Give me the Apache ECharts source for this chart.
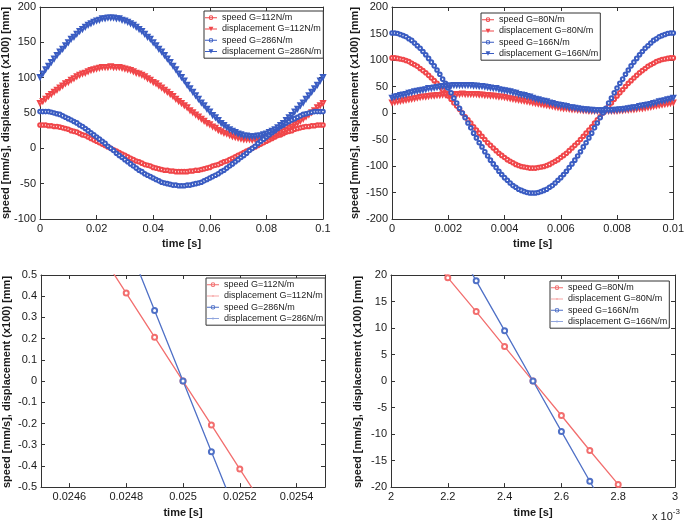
<!DOCTYPE html>
<html>
<head>
<meta charset="utf-8">
<script src="https://cdn.jsdelivr.net/npm/echarts@6/dist/echarts.min.js"></script>
<style>
html,body{margin:0;padding:0;background:#fff;}
#wrap{position:relative;width:687px;height:523px;}
.p{position:absolute;}
</style>
</head>
<body>
<div id="wrap">
<div id="c1" class="p" style="left:0;top:0;width:345px;height:262px"></div>
<div id="c2" class="p" style="left:345px;top:0;width:342px;height:262px"></div>
<div id="c3" class="p" style="left:0;top:262px;width:345px;height:261px"></div>
<div id="c4" class="p" style="left:345px;top:262px;width:342px;height:261px"></div>
</div>
<script>
// ---------- Panel 1 (t = 0 .. 0.1 s, step 0.001 s) ----------
const p1Step = 0.001;
const p1Names = ['speed G=112N/m', 'displacement G=112N/m', 'speed G=286N/m', 'displacement G=286N/m'];
const p1Speed112 = [33,33,33,32,32,31,31,30,29,28,27,25,24,23,21,19,18,16,14,12,10,8,6,4,2,0,-2,-4,-6,-8,-10,-12,-14,-16,-18,-19,-21,-23,-24,-25,-27,-28,-29,-30,-31,-31,-32,-32,-33,-33,-33,-33,-33,-32,-32,-31,-31,-30,-29,-28,-27,-25,-24,-23,-21,-19,-18,-16,-14,-12,-10,-8,-6,-4,-2,0,2,4,6,8,10,12,14,16,18,19,21,23,24,25,27,28,29,30,31,31,32,32,33,33,33];
const p1Disp112 = [64,67,70,74,77,80,83,86,89,92,94,97,99,102,104,106,107,109,111,112,113,114,115,115,115,116,115,115,115,114,113,112,111,109,107,106,104,102,99,97,94,92,89,86,83,80,77,74,70,67,64,61,58,54,51,48,45,42,39,36,34,31,29,26,24,22,21,19,17,16,15,14,13,13,13,12,13,13,13,14,15,16,17,19,21,22,24,26,29,31,34,36,39,42,45,48,51,54,58,61,64];
const p1Speed286 = [52,52,52,52,51,50,49,48,46,44,42,40,38,36,33,31,28,25,22,19,16,13,10,7,3,0,-3,-7,-10,-13,-16,-19,-22,-25,-28,-31,-33,-36,-38,-40,-42,-44,-46,-48,-49,-50,-51,-52,-52,-53,-53,-53,-52,-52,-51,-50,-49,-48,-46,-44,-42,-40,-38,-36,-33,-31,-28,-25,-22,-19,-16,-13,-10,-7,-3,0,3,7,10,13,16,19,22,25,28,31,33,36,38,40,42,44,46,48,49,50,51,52,52,52,52];
const p1Disp286 = [101,106,112,117,122,127,132,137,141,146,150,155,158,162,166,169,172,175,177,179,181,182,184,184,185,185,185,184,184,182,181,179,177,175,172,169,166,162,158,155,150,146,141,137,132,127,122,117,112,106,101,96,90,85,80,75,70,65,61,56,52,47,44,40,36,33,30,27,25,23,21,20,18,18,17,17,17,18,18,20,21,23,25,27,30,33,36,40,44,47,52,56,61,65,70,75,80,85,90,96,101];

// ---------- Panel 2 (t = 0 .. 0.01 s, step 0.0001 s) ----------
const p2Step = 0.0001;
const p2Names = ['speed G=80N/m', 'displacement G=80N/m', 'speed G=166N/m', 'displacement G=166N/m'];
const p2Speed80 = [104,104,103,102,101,99,97,94,91,88,84,80,76,71,66,61,56,50,44,38,32,26,19,13,7,0,-7,-13,-19,-26,-32,-38,-44,-50,-56,-61,-66,-71,-76,-80,-84,-88,-91,-94,-97,-99,-101,-102,-103,-104,-104,-104,-103,-102,-101,-99,-97,-94,-91,-88,-84,-80,-76,-71,-66,-61,-56,-50,-44,-38,-32,-26,-19,-13,-7,0,7,13,19,26,32,38,44,50,56,61,66,71,76,80,84,88,91,94,97,99,101,102,103,104,104];
const p2Disp80 = [20,21,22,23,24,25,26,27,28,29,30,31,31,32,33,33,34,34,35,35,36,36,36,36,36,37,36,36,36,36,36,35,35,34,34,33,33,32,31,31,30,29,28,27,26,25,24,23,22,21,20,19,18,17,16,15,14,13,12,11,10,9,9,8,7,7,6,6,5,5,4,4,4,4,4,4,4,4,4,4,4,5,5,6,6,7,7,8,9,9,10,11,12,13,14,15,16,17,18,19,20];
const p2Speed166 = [151,151,150,148,146,144,140,137,132,127,122,116,110,103,96,89,81,73,64,56,47,38,28,19,9,0,-9,-19,-28,-38,-47,-56,-64,-73,-81,-89,-96,-103,-110,-116,-122,-127,-132,-137,-140,-144,-146,-148,-150,-151,-151,-151,-150,-148,-146,-144,-140,-137,-132,-127,-122,-116,-110,-103,-96,-89,-81,-73,-64,-56,-47,-38,-28,-19,-9,0,9,19,28,38,47,56,64,73,81,89,96,103,110,116,122,127,132,137,140,144,146,148,150,151,151];
const p2Disp166 = [29,31,32,34,35,36,38,39,41,42,43,44,45,47,47,48,49,50,51,51,52,52,53,53,53,53,53,53,53,52,52,51,51,50,49,48,47,47,45,44,43,42,41,39,38,36,35,34,32,31,29,27,26,24,23,22,20,19,17,16,15,14,13,11,11,10,9,8,7,7,6,6,5,5,5,5,5,5,5,6,6,7,7,8,9,10,11,11,13,14,15,16,17,19,20,22,23,24,26,27,29];

// ---------- Panel 3 (zoom around t = 0.025 s) ----------
const p3Names = ['speed G=112N/m', 'displacement G=112N/m', 'speed G=286N/m', 'displacement G=286N/m'];
const p3TimeRed = [0.0247, 0.0248, 0.0249, 0.025, 0.0251, 0.0252, 0.0253];
const p3Speed112 = [0.622, 0.415, 0.207, 0, -0.207, -0.415, -0.622];
const p3Disp112 = [115.4, 115.5, 115.5, 115.5, 115.5, 115.5, 115.4];
const p3TimeBlue = [0.0248, 0.0249, 0.025, 0.0251, 0.0252];
const p3Speed286 = [0.666, 0.333, 0, -0.333, -0.666];
const p3Disp286 = [185, 185, 185, 185, 185];
const p3XTicks = [0.0246, 0.0248, 0.025, 0.0252, 0.0254];

// ---------- Panel 4 (zoom around t = 2.5e-3 s, time in 1e-3 s) ----------
const p4Names = ['speed G=80N/m', 'displacement G=80N/m', 'speed G=166N/m', 'displacement G=166N/m'];
const p4TimeRed = [2.1, 2.2, 2.3, 2.4, 2.5, 2.6, 2.7, 2.8, 2.9];
const p4Speed80 = [25.9, 19.5, 13.1, 6.5, 0, -6.5, -13.1, -19.5, -25.9];
const p4Disp80 = [36.4, 36.5, 36.5, 36.5, 36.5, 36.4, 36.3, 36.1, 35.9];
const p4TimeBlue = [2.1, 2.2, 2.3, 2.4, 2.5, 2.6, 2.7, 2.8, 2.9];
const p4Speed166 = [37.6, 28.3, 18.9, 9.5, 0, -9.5, -18.9, -28.3, -37.6];
const p4Disp166 = [52.8, 53, 53, 53, 53, 52.8, 52.6, 52.3, 52];

const FONT = 'Liberation Sans, Arial, sans-serif';
const RED = '#f0464a', BLUE = '#3a5cc2';
const RED2 = '#f26e6e', BLUE2 = '#4f70c6';
const RED3 = '#f7a5a5', BLUE3 = '#90a5de';
const YNAME = 'speed [mm/s], displacement (x100) [mm]';

// legend icons: short line with a small marker (box 12 x 4.6)
const ICON_CIRC = 'path://M0,1.8h12v1h-12z M3.7,2.3a2.3,2.3 0 1,1 4.6,0a2.3,2.3 0 1,1 -4.6,0z M4.6,2.3a1.4,1.4 0 1,0 2.8,0a1.4,1.4 0 1,0 -2.8,0z';
const ICON_TRI = 'path://M0,1.8h12v1h-12z M3.6,0h4.8l-2.4,4.6z';
const ICON_DOT = 'path://M0,1.8h12v1h-12z M5,2.3a1,1 0 1,1 2,0a1,1 0 1,1 -2,0z';

function pairs(xs, ys) { return ys.map((v, i) => [xs[i], v]); }
function stepPairs(step, ys) { return ys.map((v, i) => [+(i * step).toFixed(6), v]); }

function axes(o) {
  const tick = { show: true, inside: true, length: 4, lineStyle: { color: '#333', width: 1 } };
  const line = { show: true, onZero: false, lineStyle: { color: '#333', width: 1 } };
  const lab = { color: '#1a1a1a', fontSize: 11, fontFamily: FONT, margin: 4 };
  const xt = Object.assign({}, tick, o.xCustom ? { customValues: o.xCustom } : {});
  const xl = Object.assign({}, lab, o.xCustom ? { customValues: o.xCustom } : {});
  const base = { type: 'value', min: o.xmin, max: o.xmax, splitLine: { show: false } };
  if (!o.xCustom) base.interval = o.xint;
  const ybase = { type: 'value', min: o.ymin, max: o.ymax, interval: o.yint, splitLine: { show: false } };
  return {
    xAxis: [
      Object.assign({}, base, { position: 'bottom', axisLine: line, axisTick: xt, axisLabel: xl,
        name: 'time [s]', nameLocation: 'middle', nameGap: o.xGap,
        nameTextStyle: { fontSize: 11, fontWeight: 'bold', color: '#1a1a1a', fontFamily: FONT } }),
      Object.assign({}, base, { position: 'top', axisLine: line, axisTick: xt, axisLabel: { show: false } })
    ],
    yAxis: [
      Object.assign({}, ybase, { position: 'left', axisLine: line, axisTick: tick, axisLabel: lab }),
      Object.assign({}, ybase, { position: 'right', axisLine: line, axisTick: tick, axisLabel: { show: false } })
    ]
  };
}

function yTitle(x, y) {
  return {
    type: 'text', x: x, y: y, rotation: Math.PI / 2, silent: true,
    style: { text: YNAME, fontSize: 11, fontWeight: 'bold', fontFamily: FONT, fill: '#1a1a1a',
      align: 'center', verticalAlign: 'middle' }
  };
}

function legend(left, top, names, icons) {
  return {
    left: left, top: top, orient: 'vertical',
    data: names.map((n, i) => ({ name: n, icon: icons[i], itemStyle: { borderWidth: 0 } })),
    backgroundColor: '#fff', borderColor: '#333', borderWidth: 1,
    padding: [1, 2, 1, 1], itemGap: 0, itemWidth: 12, itemHeight: 4.6,
    symbolKeepAspect: true,
    textStyle: { fontSize: 9, fontFamily: FONT, color: '#222', lineHeight: 11.3 },
    selectedMode: false
  };
}

function dense(name, data, color, sym) {
  return {
    type: 'line', name: name, data: data, xAxisIndex: 0, yAxisIndex: 0,
    symbol: sym === 'tri' ? 'emptyTriangle' : 'emptyCircle',
    symbolRotate: sym === 'tri' ? 180 : 0,
    symbolSize: sym === 'tri' ? 4 : 3.6,
    itemStyle: { color: color, borderColor: color, borderWidth: 1 },
    lineStyle: { color: color, width: 1 },
    clip: true, silent: true
  };
}
function thin(name, data, color, dot) {
  return {
    type: 'line', name: name, data: data, xAxisIndex: 0, yAxisIndex: 0,
    symbol: dot ? 'circle' : 'emptyCircle',
    symbolSize: dot ? 2.5 : 5,
    itemStyle: { color: color, borderColor: color, borderWidth: 1 },
    lineStyle: { color: color, width: dot ? 1 : 1.3 },
    clip: true, silent: true
  };
}

function build(id, o) {
  const ch = echarts.init(document.getElementById(id), null, { renderer: 'canvas' });
  const opt = Object.assign({
    animation: false,
    backgroundColor: 'transparent',
    grid: { left: o.gl, top: o.gt, width: o.gw, height: o.gh, containLabel: false },
    legend: legend(o.ll, o.lt, o.names, o.icons),
    series: o.series,
    graphic: [yTitle(o.tx, o.gt + o.gh / 2)].concat(o.graphic || [])
  }, axes(o));
  ch.setOption(opt);
}

const ICONS_A = [ICON_CIRC, ICON_TRI, ICON_CIRC, ICON_TRI];
const ICONS_B = [ICON_CIRC, ICON_DOT, ICON_CIRC, ICON_DOT];

build('c1', {
  gl: 40, gt: 7, gw: 283, gh: 212, ll: 204, lt: 11, names: p1Names, icons: ICONS_A, tx: 5.5,
  xmin: 0, xmax: 0.1, xint: 0.02, ymin: -100, ymax: 200, yint: 50, xGap: 17,
  series: [
    dense(p1Names[0], stepPairs(p1Step, p1Speed112), RED, 'circ'),
    dense(p1Names[1], stepPairs(p1Step, p1Disp112), RED, 'tri'),
    dense(p1Names[2], stepPairs(p1Step, p1Speed286), BLUE, 'circ'),
    dense(p1Names[3], stepPairs(p1Step, p1Disp286), BLUE, 'tri')
  ]
});

build('c2', {
  gl: 47, gt: 7, gw: 283, gh: 212, ll: 136, lt: 13, names: p2Names, icons: ICONS_A, tx: 10,
  xmin: 0, xmax: 0.01, xint: 0.002, ymin: -200, ymax: 200, yint: 50, xGap: 17,
  series: [
    dense(p2Names[0], stepPairs(p2Step, p2Speed80), RED, 'circ'),
    dense(p2Names[1], stepPairs(p2Step, p2Disp80), RED, 'tri'),
    dense(p2Names[2], stepPairs(p2Step, p2Speed166), BLUE, 'circ'),
    dense(p2Names[3], stepPairs(p2Step, p2Disp166), BLUE, 'tri')
  ]
});

build('c3', {
  gl: 41, gt: 13, gw: 284, gh: 214, ll: 206, lt: 16, names: p3Names, icons: ICONS_B, tx: 7,
  xmin: 0.0245, xmax: 0.0255, xCustom: p3XTicks, ymin: -0.5, ymax: 0.5, yint: 0.1, xGap: 18,
  series: [
    thin(p3Names[0], pairs(p3TimeRed, p3Speed112), RED2, false),
    thin(p3Names[1], pairs(p3TimeRed, p3Disp112), RED3, true),
    thin(p3Names[2], pairs(p3TimeBlue, p3Speed286), BLUE2, false),
    thin(p3Names[3], pairs(p3TimeBlue, p3Disp286), BLUE3, true)
  ]
});

build('c4', {
  gl: 46, gt: 13, gw: 284, gh: 214, ll: 205, lt: 19, names: p4Names, icons: ICONS_B, tx: 13,
  xmin: 2, xmax: 3, xint: 0.2, ymin: -20, ymax: 20, yint: 5, xGap: 18,
  series: [
    thin(p4Names[0], pairs(p4TimeRed, p4Speed80), RED2, false),
    thin(p4Names[1], pairs(p4TimeRed, p4Disp80), RED3, true),
    thin(p4Names[2], pairs(p4TimeBlue, p4Speed166), BLUE2, false),
    thin(p4Names[3], pairs(p4TimeBlue, p4Disp166), BLUE3, true)
  ],
  graphic: [{
    type: 'text', left: 307, top: 246,
    style: {
      text: '{a|x 10}{b|-3}',
      rich: {
        a: { fontSize: 11, fontFamily: FONT, fill: '#1a1a1a', verticalAlign: 'bottom' },
        b: { fontSize: 8, fontFamily: FONT, fill: '#1a1a1a', verticalAlign: 'top', padding: [0, 0, 6, 0] }
      }
    }
  }]
});
</script>
</body>
</html>
